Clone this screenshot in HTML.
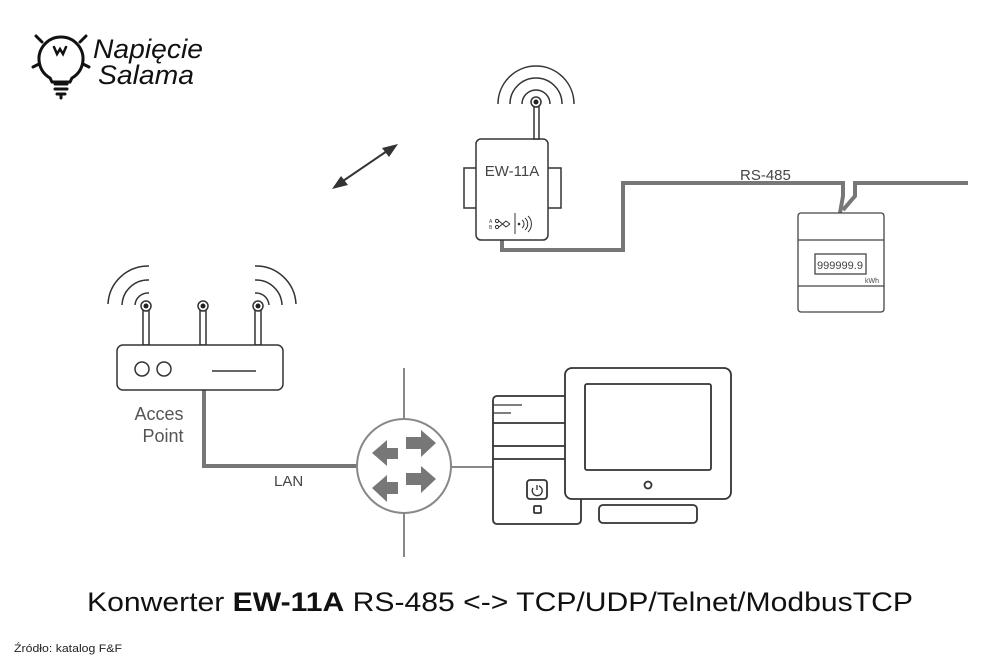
<!DOCTYPE html>
<html><head><meta charset="utf-8"><style>
html,body{margin:0;padding:0;background:#fff;}
svg{display:block;}
text{font-family:"Liberation Sans",sans-serif;}
</style></head><body>
<svg width="1000" height="667" viewBox="0 0 1000 667" xmlns="http://www.w3.org/2000/svg">
<!-- Logo -->
<g stroke="#111" fill="none" stroke-width="3" stroke-linecap="round">
  <path d="M50 78 A22 22 0 1 1 72 78 L70 82 L52 82 Z"/>
  <path d="M54 47 l3 7 l3-5 l3 5 l3-7" stroke-width="2.5"/>
  <path d="M55 84 h12 M55 89 h12 M57 94 h8 M61 94 v4"/>
  <path d="M36 36 l6 6 M86 36 l-6 6 M33 67 l6-3 M89 67 l-6-3"/>
</g>
<text x="93" y="58" font-size="27" font-style="italic" fill="#111" textLength="110" lengthAdjust="spacingAndGlyphs">Napięcie</text>
<text x="98" y="84" font-size="27" font-style="italic" fill="#111" textLength="96" lengthAdjust="spacingAndGlyphs">Salama</text>

<!-- double arrow -->
<g stroke="#333" stroke-width="2" fill="#333">
  <line x1="340" y1="183" x2="390" y2="149"/>
  <polygon points="398,144 382,148 389,157" stroke="none"/>
  <polygon points="332,189 341,176 348,185" stroke="none"/>
</g>

<!-- cables -->
<g stroke="#777" stroke-width="4" fill="none">
  <polyline points="502,240 502,250 623,250 623,183 843,183 843,196 840,213"/>
  <polyline points="968,183 855,183 855,196 843,210"/>
  <polyline points="204,390 204,466 357,466"/>
</g>
<text x="740" y="180" font-size="15" fill="#444">RS-485</text>
<text x="274" y="486" font-size="15" fill="#444">LAN</text>

<!-- EW-11A -->
<g stroke="#333" stroke-width="1.5" fill="#fff">
  <rect x="464" y="168" width="14" height="40"/>
  <rect x="547" y="168" width="14" height="40"/>
  <rect x="476" y="139" width="72" height="101" rx="5"/>
  <rect x="534" y="104" width="5" height="35"/>
  <circle cx="536" cy="102" r="5"/>
</g>
<circle cx="536" cy="102" r="2.5" fill="#222"/>
<g stroke="#333" stroke-width="1.5" fill="none">
  <path d="M522 104 A14 14 0 0 1 550 104"/>
  <path d="M510 104 A26 26 0 0 1 562 104"/>
  <path d="M498 104 A38 38 0 0 1 574 104"/>
</g>
<text x="512" y="176" font-size="15" fill="#444" text-anchor="middle">EW-11A</text>
<g stroke="#333" stroke-width="1" fill="none">
  <text x="489" y="223" font-size="5" fill="#444" stroke="none">A</text>
  <text x="489" y="229" font-size="5" fill="#444" stroke="none">B</text>
  <circle cx="497" cy="221" r="1.6"/><circle cx="497" cy="227" r="1.6"/>
  <path d="M499 221 L506 227 L510 224 M499 227 L506 221 L510 224"/>
  <line x1="515" y1="213" x2="515" y2="234"/>
  <circle cx="519" cy="224" r="0.8" fill="#333"/>
  <path d="M522 220 A5 5 0 0 1 522 228 M525 218 A8 8 0 0 1 525 230 M528 216 A11 11 0 0 1 528 232"/>
</g>

<!-- meter -->
<g stroke="#444" stroke-width="1.3" fill="#fff">
  <rect x="798" y="213" width="86" height="99" rx="3"/>
  <line x1="798" y1="240" x2="884" y2="240"/>
  <line x1="798" y1="286" x2="884" y2="286"/>
  <rect x="815" y="254" width="51" height="20"/>
</g>
<text x="840" y="269" font-size="11" fill="#444" text-anchor="middle" textLength="46" lengthAdjust="spacingAndGlyphs">999999.9</text>
<text x="865" y="283" font-size="7" fill="#444">kWh</text>

<!-- router -->
<g stroke="#333" stroke-width="1.5" fill="#fff">
  <rect x="143" y="308" width="6" height="37"/>
  <rect x="200" y="308" width="6" height="37"/>
  <rect x="255" y="308" width="6" height="37"/>
  <circle cx="146" cy="306" r="5"/><circle cx="203" cy="306" r="5"/><circle cx="258" cy="306" r="5"/>
  <rect x="117" y="345" width="166" height="45" rx="6"/>
  <circle cx="142" cy="369" r="7"/><circle cx="164" cy="369" r="7"/>
  <line x1="212" y1="371" x2="256" y2="371"/>
</g>
<g fill="#222"><circle cx="146" cy="306" r="2.5"/><circle cx="203" cy="306" r="2.5"/><circle cx="258" cy="306" r="2.5"/></g>
<g stroke="#333" stroke-width="1.5" fill="none">
  <path d="M135 305 A13 13 0 0 1 149 293"/>
  <path d="M122 305 A26 26 0 0 1 149 280"/>
  <path d="M108 304 A40 40 0 0 1 149 266"/>
  <path d="M269 305 A13 13 0 0 0 255 293"/>
  <path d="M282 305 A26 26 0 0 0 255 280"/>
  <path d="M296 304 A40 40 0 0 0 255 266"/>
</g>
<text x="159" y="420" font-size="18" fill="#555" text-anchor="middle">Acces</text>
<text x="163" y="442" font-size="18" fill="#555" text-anchor="middle">Point</text>

<!-- switch -->
<g stroke="#888" stroke-width="2">
  <line x1="404" y1="368" x2="404" y2="557"/>
  <line x1="451" y1="467" x2="496" y2="467"/>
</g>
<circle cx="404" cy="466" r="47" fill="#fff" stroke="#888" stroke-width="2"/>
<g fill="#777">
  <polygon points="372,453 387,440 387,448 398,448 398,459 387,459 387,466"/>
  <polygon points="436,443 421,430 421,437 406,437 406,449 421,449 421,457"/>
  <polygon points="372,488 387,475 387,482 398,482 398,494 387,494 387,502"/>
  <polygon points="436,479 421,466 421,473 406,473 406,485 421,485 421,493"/>
</g>

<!-- computer -->
<g stroke="#333" stroke-width="1.8" fill="#fff">
  <rect x="493" y="396" width="88" height="128" rx="4"/>
  <rect x="565" y="368" width="166" height="131" rx="7"/>
  <rect x="585" y="384" width="126" height="86" rx="2"/>
  <circle cx="648" cy="485" r="3.5"/>
  <rect x="599" y="505" width="98" height="18" rx="4"/>
  <line x1="493" y1="423" x2="565" y2="423"/>
  <line x1="493" y1="446" x2="565" y2="446"/>
  <line x1="493" y1="459" x2="565" y2="459"/>
  <line x1="493" y1="405" x2="522" y2="405" stroke-width="1.3"/>
  <line x1="493" y1="413" x2="511" y2="413" stroke-width="1.3"/>
  <rect x="527" y="480" width="20" height="19" rx="3"/>
  <rect x="534" y="506" width="7" height="7" rx="1"/>
  <path d="M533 488 A5 5 0 1 0 539 486" fill="none" stroke-width="1.3"/>
  <line x1="537" y1="485" x2="537" y2="490" stroke-width="1.3"/>
</g>

<!-- caption -->
<text x="87" y="611" font-size="27" fill="#111" textLength="826" lengthAdjust="spacingAndGlyphs">Konwerter <tspan font-weight="bold">EW-11A</tspan> RS-485 &lt;-&gt; TCP/UDP/Telnet/ModbusTCP</text>
<text x="14" y="652" font-size="11" fill="#222" textLength="108" lengthAdjust="spacingAndGlyphs">Źródło: katalog F&amp;F</text>
</svg>
</body></html>
